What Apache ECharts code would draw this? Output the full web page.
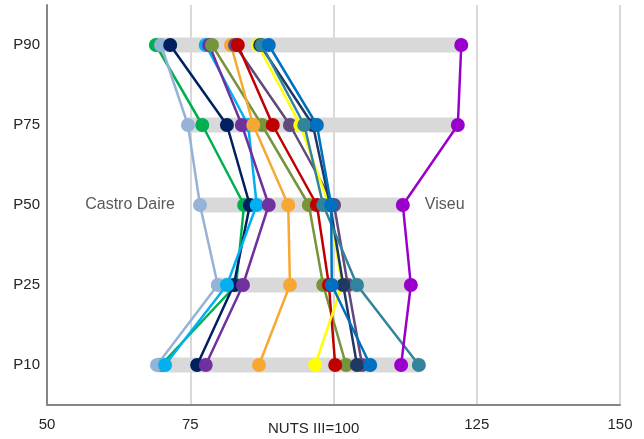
<!DOCTYPE html>
<html>
<head>
<meta charset="utf-8">
<script src="https://cdn.jsdelivr.net/npm/echarts@6/dist/echarts.min.js"></script>
<style>
html,body{margin:0;padding:0;background:#fff;}
#chart{width:644px;height:439px;}
</style>
</head>
<body>
<div id="chart"></div>
<script>
const categories = ['P10', 'P25', 'P50', 'P75', 'P90'];
const xTicks = [50, 75, 100, 125, 150];
const axisTitle = 'NUTS III=100';

const seriesNames = ['Série 1', 'Castro Daire', 'Série 3', 'Série 4', 'Série 5', 'Série 6', 'Série 7',
  'Série 8', 'Série 9', 'Série 10', 'Série 11', 'Série 12', 'Série 13', 'Viseu'];
const seriesColors = ['#00b050', '#95b3d7', '#002060', '#00b0f0', '#7030a0', '#77933c', '#f7a833',
  '#604a7b', '#c00000', '#ffff00', '#1f3864', '#31849b', '#0070c0', '#9900cc'];

const s1 = [69.9, 83.0, 84.4, 77.1, 69.0];
const castroDaire = [69.2, 79.8, 76.7, 74.6, 69.9];
const s3 = [76.2, 82.6, 85.4, 81.4, 71.5];
const s4 = [70.6, 81.4, 86.6, 85.1, 77.7];
const s5 = [77.7, 84.2, 88.7, 84.0, 78.3];
const s6 = [102.2, 98.2, 95.7, 87.5, 78.8];
const s7 = [87.0, 92.4, 92.1, 86.0, 82.1];
const s8 = [105.0, 102.5, 100.1, 92.4, 82.8];
const s9 = [100.3, 99.2, 97.1, 89.4, 83.3];
const s10 = [96.8, 101.5, 99.2, 94.2, 86.8];
const s11 = [104.1, 101.7, 99.4, 96.4, 87.2];
const s12 = [114.9, 104.1, 98.2, 94.9, 87.5];
const s13 = [106.4, 99.7, 99.6, 97.1, 88.7];
const viseu = [111.8, 113.5, 112.1, 121.7, 122.3];

const allValues = [s1, castroDaire, s3, s4, s5, s6, s7, s8, s9, s10, s11, s12, s13, viseu];

const bandMin = categories.map((c, i) => Math.min(...allValues.map(v => v[i])));
const bandMax = categories.map((c, i) => Math.max(...allValues.map(v => v[i])));

const labelStyle = {color: '#595959', fontSize: 16, fontFamily: 'Liberation Sans, Arial, sans-serif'};

const lineSeries = allValues.map((vals, k) => ({
  type: 'line',
  name: seriesNames[k],
  z: 3 + k,
  symbol: 'circle',
  symbolSize: 14,
  lineStyle: {width: 2.5, color: seriesColors[k]},
  itemStyle: {color: seriesColors[k]},
  emphasis: {disabled: true},
  data: vals.map((v, i) => {
    const item = {value: [v, categories[i]]};
    if (categories[i] === 'P50' && seriesNames[k] === 'Castro Daire') {
      item.label = Object.assign({show: true, position: 'left', distance: 18, formatter: seriesNames[k]}, labelStyle);
    }
    if (categories[i] === 'P50' && seriesNames[k] === 'Viseu') {
      item.label = Object.assign({show: true, position: 'right', distance: 15, formatter: seriesNames[k]}, labelStyle);
    }
    return item;
  })
}));

const chart = echarts.init(document.getElementById('chart'), null, {renderer: 'canvas'});
chart.setOption({
  animation: false,
  backgroundColor: '#ffffff',
  textStyle: {fontFamily: 'Liberation Sans, Arial, sans-serif'},
  grid: {left: 47, right: 24, top: 5, bottom: 34, containLabel: false},
  xAxis: {
    type: 'value',
    min: xTicks[0],
    max: xTicks[xTicks.length - 1],
    interval: 25,
    axisLine: {show: true, lineStyle: {color: '#868686', width: 2}},
    axisTick: {show: false},
    splitLine: {show: true, lineStyle: {color: '#d9d9d9', width: 2}},
    axisLabel: {
      color: '#262626', fontSize: 15, margin: 12,
      formatter: v => (v === 100 ? '' : String(v))
    }
  },
  yAxis: {
    type: 'category',
    data: categories,
    axisLine: {show: true, lineStyle: {color: '#868686', width: 2}},
    axisTick: {show: false},
    splitLine: {show: false},
    axisLabel: {color: '#262626', fontSize: 15, margin: 7}
  },
  graphic: [{
    type: 'text',
    left: 268,
    top: 421,
    style: {text: axisTitle, fill: '#262626', fontSize: 15, fontFamily: 'Liberation Sans, Arial, sans-serif'}
  }],
  series: [
    {
      type: 'bar', stack: 'band', silent: true, barWidth: 15, z: 1,
      itemStyle: {color: 'rgba(0,0,0,0)'},
      data: bandMin.map((v, i) => [v, categories[i]])
    },
    {
      type: 'bar', stack: 'band', silent: true, barWidth: 15, z: 1,
      itemStyle: {color: '#d9d9d9'},
      data: bandMax.map((v, i) => [v - bandMin[i], categories[i]])
    }
  ].concat(lineSeries)
});
</script>
</body>
</html>
